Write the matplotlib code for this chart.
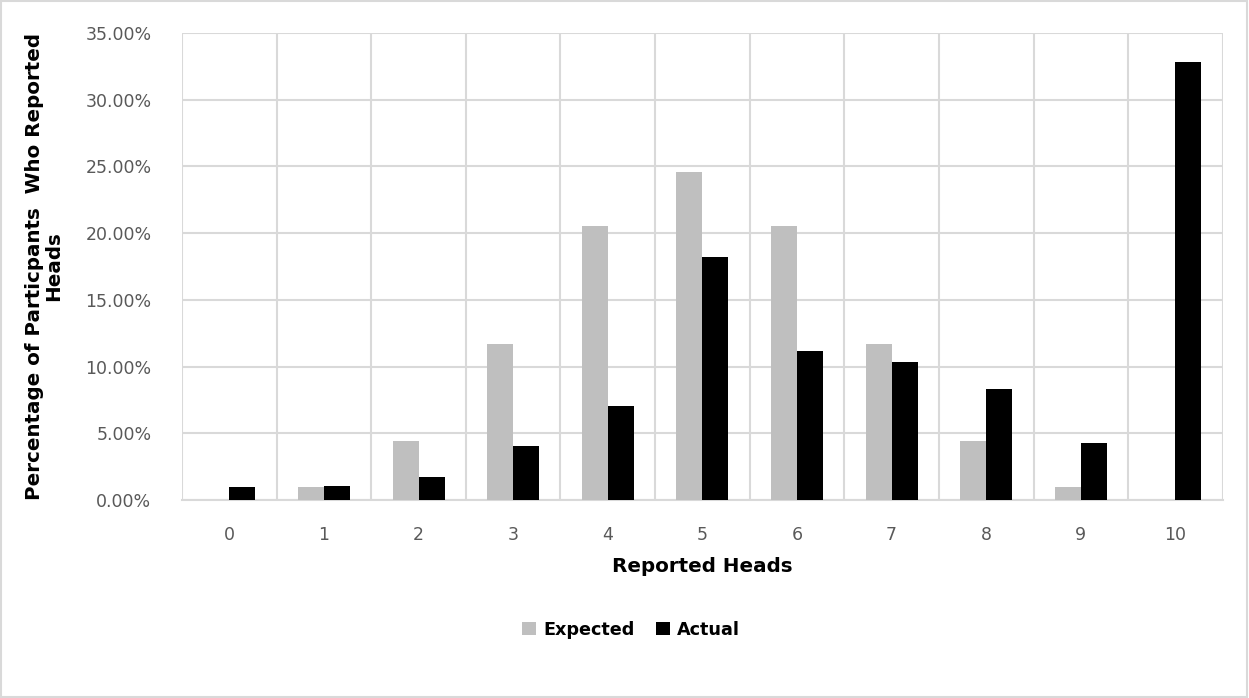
import numpy as np
import matplotlib.pyplot as plt
from matplotlib.patches import Rectangle
from matplotlib.ticker import FuncFormatter, FixedLocator

heads = [0, 1, 2, 3, 4, 5, 6, 7, 8, 9, 10]
expected = [0.0, 0.98, 4.39, 11.72, 20.51, 24.61, 20.51, 11.72, 4.39, 0.98, 0.0]
actual = [1.00, 1.08, 1.75, 4.02, 7.05, 18.2, 11.15, 10.37, 8.30, 4.30, 32.8]

grid_col = "#d9d9d9"
tick_col = "#595959"

fig = plt.figure(figsize=(12.49, 6.98), dpi=100)
ax = fig.add_axes([0.1457, 0.2837, 0.8333, 0.669])

x = np.arange(len(heads))
w = 0.275
ax.bar(x - w / 2, expected, width=w, color="#bfbfbf", label="Expected", zorder=3)
ax.bar(x + w / 2, actual, width=w, color="#000000", label="Actual", zorder=3)

ax.set_xlim(-0.5, 10.5)
ax.set_ylim(0, 35)
ax.set_yticks(np.arange(0, 35.1, 5))
ax.yaxis.set_major_formatter(FuncFormatter(lambda v, p: "%.2f%%" % v))
ax.set_xticks(x)
ax.set_xticklabels([str(h) for h in heads])
ax.xaxis.set_minor_locator(FixedLocator(np.arange(-0.5, 10.6, 1)))

ax.grid(axis="y", which="major", color=grid_col, linewidth=1.5, zorder=0)
ax.grid(axis="x", which="minor", color=grid_col, linewidth=1.5, zorder=0)
ax.grid(axis="x", which="major", visible=False)
for s in ["top", "right", "left"]:
    ax.spines[s].set_visible(False)
ax.spines["bottom"].set_color(grid_col)
ax.spines["bottom"].set_linewidth(1.5)

ax.tick_params(axis="both", which="both", length=0, colors=tick_col, labelsize=12.5)
ax.tick_params(axis="y", pad=22)
ax.tick_params(axis="x", pad=19)

ax.set_xlabel("Reported Heads", fontsize=14.3, fontweight="bold", labelpad=9)
ax.set_ylabel("Percentage of Particpants  Who Reported\nHeads", fontsize=14.3,
              fontweight="bold", labelpad=16, linespacing=1.0)

fig.legend(loc="center", bbox_to_anchor=(0.505, 0.098), ncol=2, frameon=False,
           prop={"weight": "bold", "size": 12.7}, handlelength=0.8,
           handleheight=0.8, handletextpad=0.4, columnspacing=1.2)

fig.patches.append(Rectangle((0.001, 0.001), 0.997, 0.997, transform=fig.transFigure,
                             fill=False, edgecolor=grid_col, linewidth=1.5))

fig.savefig("out.png", dpi=100)
